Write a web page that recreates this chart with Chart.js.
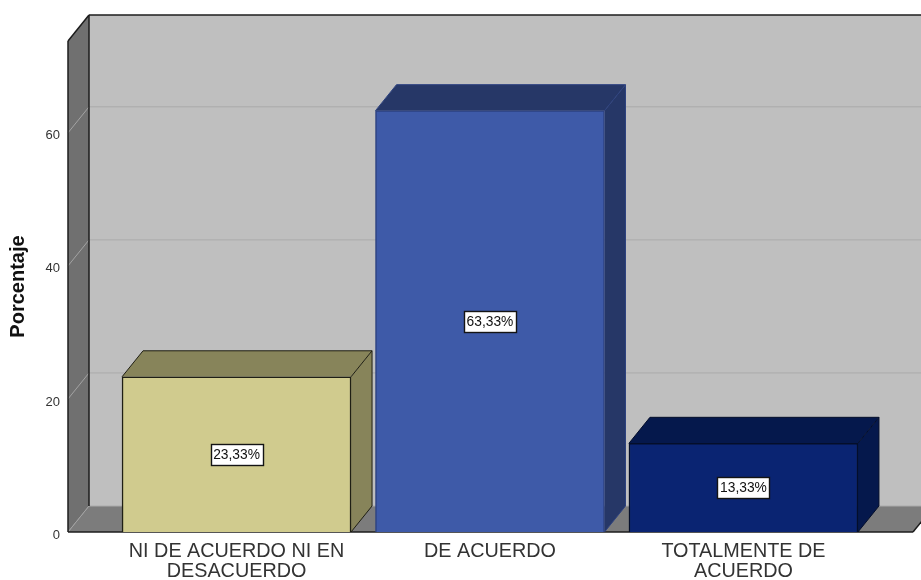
<!DOCTYPE html>
<html>
<head>
<meta charset="utf-8">
<style>
  body { margin: 0; background: #fff; }
  canvas { display: block; }
</style>
<script src="https://cdn.jsdelivr.net/npm/chart.js@4"></script>
</head>
<body>
<canvas id="grafico" width="921" height="580"></canvas>
<script>
// datos
const categorias = [["NI DE ACUERDO NI EN", "DESACUERDO"], ["DE ACUERDO"], ["TOTALMENTE DE", "ACUERDO"]];
const porcentajes = [23.33, 63.33, 13.33];
const etiquetas = ["23,33%", "63,33%", "13,33%"];
const ticksY = [0, 20, 40, 60];

// colores de cada barra
const colorFrente = ["#d0cb8e", "#3e5aa8", "#0a2472"];
const colorCara = ["#87845a", "#263767", "#05184c"];
const colorBorde = ["#1f1f14", "#2d4280", "#040e2a"];

// profundidad del efecto 3D
const fondoX = 21;
const fondoY = 26;

function poligono(ctx, puntos, relleno) {
    ctx.beginPath();
    puntos.forEach((p, i) => i ? ctx.lineTo(p[0], p[1]) : ctx.moveTo(p[0], p[1]));
    ctx.closePath();
    ctx.fillStyle = relleno;
    ctx.fill();
}

function linea(ctx, x0, y0, x1, y1, color, ancho) {
    ctx.beginPath();
    ctx.moveTo(x0, y0);
    ctx.lineTo(x1, y1);
    ctx.strokeStyle = color;
    ctx.lineWidth = ancho;
    ctx.stroke();
}

const caja3d = {
    id: "caja3d",
    beforeDatasetsDraw(chart) {
        const { ctx, chartArea: a, scales } = chart;
        const ancho = chart.width;
        ctx.save();

        // paredes y suelo
        poligono(ctx, [[a.left + fondoX, a.top - fondoY], [ancho, a.top - fondoY], [ancho, a.bottom - fondoY], [a.left + fondoX, a.bottom - fondoY]], "#bfbfbf");
        poligono(ctx, [[a.left, a.top], [a.left + fondoX, a.top - fondoY], [a.left + fondoX, a.bottom - fondoY], [a.left, a.bottom]], "#707070");
        poligono(ctx, [[a.left, a.bottom], [a.left + fondoX, a.bottom - fondoY], [a.right + fondoX, a.bottom - fondoY], [a.right, a.bottom]], "#7c7c7c");

        // lineas de cuadricula
        ticksY.forEach(v => {
            const y = scales.y.getPixelForValue(v);
            linea(ctx, a.left, y, a.left + fondoX, y - fondoY, "#a3a3a3", 1);
            linea(ctx, a.left + fondoX, y - fondoY, ancho, y - fondoY, "#aaaaaa", 1);
        });

        // bordes de la caja
        linea(ctx, a.left, a.top, a.left, a.bottom, "#1c1c1c", 1.5);
        linea(ctx, a.left, a.top, a.left + fondoX, a.top - fondoY, "#1c1c1c", 1.5);
        linea(ctx, a.left + fondoX, a.top - fondoY, a.left + fondoX, a.bottom - fondoY, "#1c1c1c", 1.5);
        linea(ctx, a.left + fondoX, a.top - fondoY, ancho, a.top - fondoY, "#1c1c1c", 1.5);
        linea(ctx, a.left, a.bottom, a.right, a.bottom, "#1c1c1c", 1.5);
        linea(ctx, a.right, a.bottom, a.right + fondoX, a.bottom - fondoY, "#1c1c1c", 1.5);

        // caras superior y lateral de las barras
        chart.getDatasetMeta(0).data.forEach((barra, i) => {
            const x0 = barra.x - barra.width / 2;
            const x1 = barra.x + barra.width / 2;
            const y = barra.y;
            const base = barra.base;
            poligono(ctx, [[x0, y], [x0 + fondoX, y - fondoY], [x1 + fondoX, y - fondoY], [x1, y]], colorCara[i]);
            poligono(ctx, [[x1, y], [x1 + fondoX, y - fondoY], [x1 + fondoX, base - fondoY], [x1, base]], colorCara[i]);
            ctx.beginPath();
            ctx.moveTo(x0, y);
            ctx.lineTo(x0 + fondoX, y - fondoY);
            ctx.lineTo(x1 + fondoX, y - fondoY);
            ctx.lineTo(x1 + fondoX, base - fondoY);
            ctx.lineTo(x1, base);
            ctx.moveTo(x1, y);
            ctx.lineTo(x1 + fondoX, y - fondoY);
            ctx.strokeStyle = colorBorde[i];
            ctx.lineWidth = 1;
            ctx.stroke();
        });
        ctx.restore();
    },
    afterDatasetsDraw(chart) {
        const { ctx } = chart;
        ctx.save();
        ctx.font = "13.8px 'Liberation Sans'";
        ctx.textAlign = "center";
        ctx.textBaseline = "middle";
        chart.getDatasetMeta(0).data.forEach((barra, i) => {
            const cy = (barra.y + barra.base) / 2;
            const w = 52;
            const h = 21;
            const x = Math.round(barra.x - w / 2) + 0.5;
            const y = Math.round(cy - h / 2) + 0.5;
            ctx.fillStyle = "#ffffff";
            ctx.fillRect(x, y, w, h);
            ctx.strokeStyle = "#141414";
            ctx.lineWidth = 1.4;
            ctx.strokeRect(x, y, w, h);
            ctx.fillStyle = "#111111";
            ctx.fillText(etiquetas[i], barra.x, y + h / 2 + 0.5);
        });
        ctx.restore();
    }
};

new Chart(document.getElementById("grafico").getContext("2d"), {
    type: "bar",
    data: {
        datasets: [{
            data: porcentajes.map((v, i) => ({ x: i, y: v })),
            backgroundColor: colorFrente,
            borderColor: colorBorde,
            borderWidth: 1.5,
            barThickness: 229
        }]
    },
    options: {
        responsive: false,
        animation: false,
        layout: { padding: { top: 41, right: 8, bottom: 0, left: 0 } },
        plugins: {
            legend: { display: false },
            tooltip: { enabled: false }
        },
        scales: {
            x: {
                type: "linear",
                offset: false,
                min: -0.665,
                max: 2.669,
                grid: { display: false, drawTicks: false, offset: false },
                border: { display: false },
                afterBuildTicks: axis => { axis.ticks = categorias.map((c, i) => ({ value: i })); },
                afterFit: axis => { axis.height = 48; },
                ticks: {
                    autoSkip: false,
                    maxRotation: 0,
                    padding: 10,
                    color: "#333333",
                    font: { family: "'Liberation Sans'", size: 19.8, lineHeight: 1 },
                    callback: v => categorias[v]
                }
            },
            y: {
                min: 0,
                max: 73.8,
                grid: { display: false, drawTicks: false },
                border: { display: false },
                afterFit: axis => { axis.width = 68; },
                afterBuildTicks: axis => { axis.ticks = ticksY.map(v => ({ value: v })); },
                title: {
                    display: true,
                    text: "Porcentaje",
                    color: "#111111",
                    padding: { top: 6, bottom: 0 },
                    font: { family: "'Liberation Sans'", size: 20, weight: "bold" }
                },
                ticks: {
                    padding: 8,
                    labelOffset: 3,
                    color: "#333333",
                    font: { family: "'Liberation Sans'", size: 13 }
                }
            }
        }
    },
    plugins: [caja3d]
});
</script>
</body>
</html>
